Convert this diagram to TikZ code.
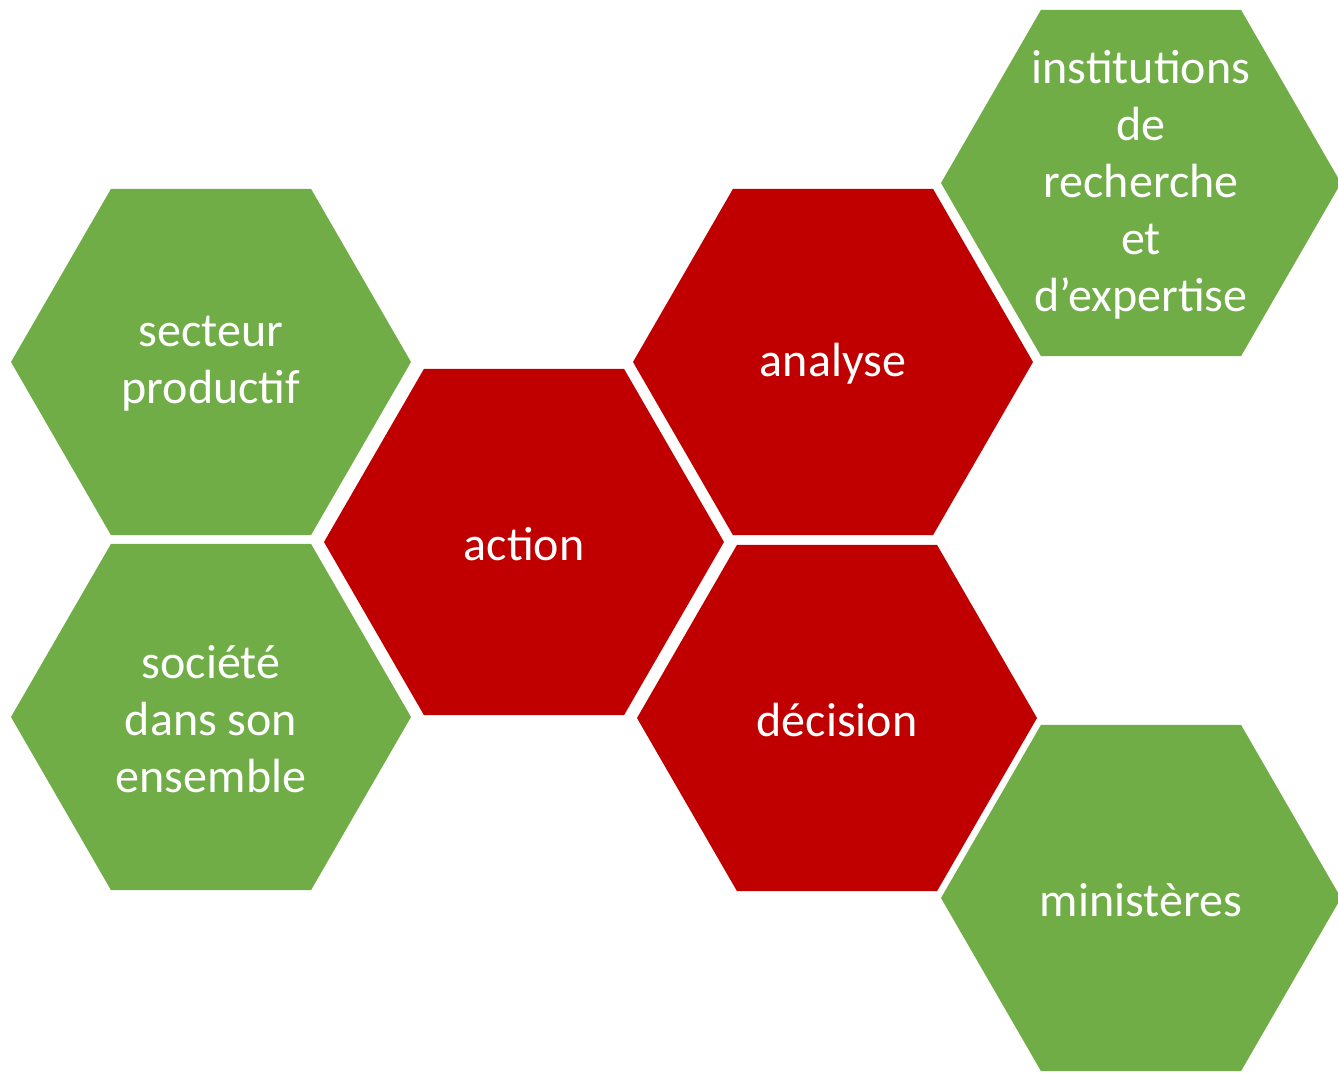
\documentclass[tikz,border=0pt]{standalone}
\usepackage{fontspec}
\setmainfont{Carlito}
\usetikzlibrary{shapes.geometric}
\definecolor{hgreen}{HTML}{70AD47}
\definecolor{hred}{HTML}{C00000}
\tikzset{
  hexa/.style={regular polygon, regular polygon sides=6, minimum size=400pt,
    inner sep=0pt, outer sep=0pt, draw=none},
  hextext/.style={text=white, align=center, inner sep=0pt,
    font=\fontsize{48}{57}\selectfont, yshift=-2pt},
  greenhex/.style={hexa, fill=hgreen},
  redhex/.style={hexa, fill=hred}
}
\begin{document}
\begin{tikzpicture}[x=1pt,y=-1pt]
\useasboundingbox (0,0) rectangle (1338,1074);
\node[greenhex] (secteur) at (211,362) {};
\node[greenhex] (societe) at (211,717) {};
\node[redhex] (action) at (524,542) {};
\node[redhex] (analyse) at (833,362) {};
\node[redhex] (decision) at (837,718) {};
\node[greenhex] (instit) at (1141,183) {};
\node[greenhex] (minist) at (1141,898) {};
\node[hextext] (tsecteur) at (secteur.center) {secteur\\productif};
\node[hextext] (tsociete) at (societe.center) {société\\dans son\\ensemble};
\node[hextext] (taction) at (action.center) {action};
\node[hextext] (tanalyse) at (analyse.center) {analyse};
\node[hextext] (tdecision) at (decision.center) {décision};
\node[hextext] (tinstit) at (instit.center) {institutions\\de\\recherche\\et\\d’expertise};
\node[hextext] (tminist) at (minist.center) {ministères};
\end{tikzpicture}
\end{document}
